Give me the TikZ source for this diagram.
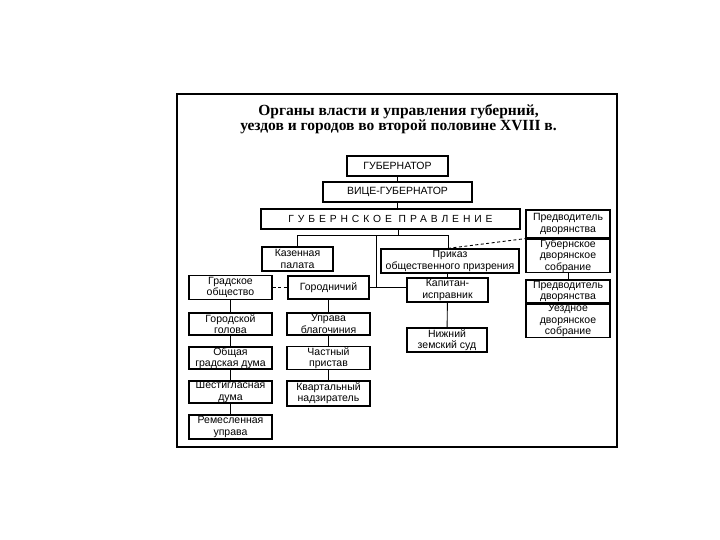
\documentclass[tikz,border=0pt]{standalone}
\usepackage{fontspec}
\setmainfont{Liberation Sans}
\newfontfamily\titlefont{Liberation Serif}
\newfontfamily\spacedfont[LetterSpace=38]{Liberation Sans}
\begin{document}
\begin{tikzpicture}[x=1pt,y=-1pt,
  box/.style 2 args={draw, line width=1.2pt, minimum width=#1, minimum height=#2, inner sep=0.5pt, align=center, font=\fontsize{10.5}{11.3}\selectfont},
  lnk/.style={line width=0.9pt},
  dsh/.style={line width=0.9pt, dash pattern=on 3pt off 2.5pt}]
\useasboundingbox (0,0) rectangle (720,540);
% frame
\draw[line width=2.4pt] (177,94) rectangle (617,447);
% title
\node[font=\titlefont\bfseries\fontsize{15.5}{14}\selectfont, align=center] (title) at (398.5,119.5)
  {Органы власти и управления губерний,\\уездов и городов во второй половине XVIII в.};
% top chain
\node[box={101pt}{20pt}] (gub) at (397.5,166) {ГУБЕРНАТОР};
\node[box={149pt}{20pt}] (vice) at (397.5,192) {ВИЦЕ-ГУБЕРНАТОР};
\node[box={259pt}{20pt}, font=\spacedfont\fontsize{10.3}{11}\selectfont] (prav) at (390.5,219) {ГУБЕРНСКОЕ ПРАВЛЕНИЕ};
% second level
\node[box={71pt}{24pt}] (kaz) at (297.5,259) {Казенная\\палата};
\node[box={138pt}{24pt}] (prik) at (450,261) {Приказ\\общественного призрения};
\node[box={81pt}{24pt}] (kap) at (447.5,290) {Капитан-\\исправник};
\node[box={80pt}{24pt}] (sud) at (447,340) {Нижний\\земский суд};
% city branch
\node[box={81pt}{23pt}] (gorod) at (328.5,287.5) {Городничий};
\node[box={83pt}{24pt}] (grob) at (230.5,287.5) {Градское\\общество};
\node[box={83pt}{22pt}] (golova) at (230.5,324) {Городской\\голова};
\node[box={83pt}{22pt}] (duma) at (230.5,358) {Общая\\градская дума};
\node[box={83pt}{22pt}] (shest) at (230.5,392) {Шестигласная\\дума};
\node[box={83pt}{24pt}] (rem) at (230.5,427) {Ремесленная\\управа};
\node[box={83pt}{22pt}] (upr) at (328.5,324) {Управа\\благочиния};
\node[box={83pt}{22pt}] (chast) at (328.5,358) {Частный\\пристав};
\node[box={83pt}{25pt}] (kvart) at (328.5,393.5) {Квартальный\\надзиратель};
% nobility
\node[box={84pt}{28pt}] (pred1) at (568,224) {Предводитель\\дворянства};
\node[box={84pt}{33pt}, anchor=north] (sob1) at (pred1.south) {Губернское\\дворянское\\собрание};
\node[box={84pt}{23pt}] (pred2) at (568,291.5) {Предводитель\\дворянства};
\node[box={84pt}{33pt}, anchor=north] (sob2) at (pred2.south) {Уездное\\дворянское\\собрание};
% connectors
\draw[lnk] (gub) -- (vice);
\draw[lnk] (vice) -- (vice.south |- prav.north);
\coordinate (b0) at (398,235);
\coordinate (bl) at (297.5,235);
\coordinate (br) at (448,235);
\coordinate (bm) at (376,235);
\draw[lnk] (prav.south -| b0) -- (b0);
\draw[lnk] (kaz.north) -- (bl) -- (br) -- (br |- prik.north);
\draw[lnk] (bm) -- (bm |- gorod.east);
\draw[lnk] (gorod.east) -- (gorod.east -| kap.west);
\draw[lnk] (kap.north) -- (kap.north |- prik.south);
\draw[lnk] (kap) -- (sud);
\draw[dsh] (grob) -- (gorod);
\draw[lnk] (grob) -- (golova) -- (duma) -- (shest) -- (rem);
\draw[lnk] (gorod) -- (upr) -- (chast) -- (kvart);
\draw[lnk] (sob1) -- (pred2);
\draw[dsh] (br |- prik.north) -- (pred1.south west);
\end{tikzpicture}
\end{document}
